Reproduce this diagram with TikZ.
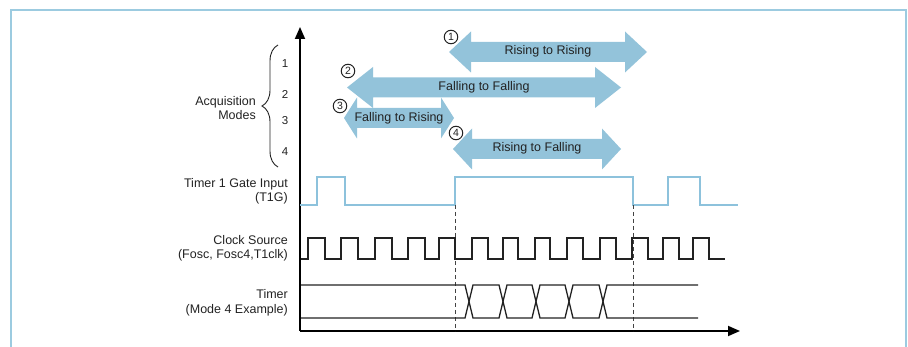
\documentclass[tikz,border=0pt]{standalone}
\usepackage{fontspec}
\setmainfont{Liberation Sans}
\usetikzlibrary{decorations.pathreplacing,arrows.meta}
\definecolor{arrowblue}{HTML}{93C3DA}
\definecolor{frameblue}{HTML}{9CCBE0}
\definecolor{sigblue}{HTML}{8DC2DC}
\definecolor{txt}{HTML}{222222}
\newcommand\dblarr[4]{\fill[arrowblue] (#1,#3) -- (#1+#4,#3-20.5) -- (#1+#4,#3-10) -- (#2-#4,#3-10) -- (#2-#4,#3-20.5) -- (#2,#3) -- (#2-#4,#3+20.5) -- (#2-#4,#3+10) -- (#1+#4,#3+10) -- (#1+#4,#3+20.5) -- cycle;}
\begin{document}
\begin{tikzpicture}[x=1pt,y=-1pt,
  lbl/.style={font=\fontsize{12.5}{14.5}\selectfont, text=txt, align=right, anchor=east, inner sep=0pt},
  arrtxt/.style={font=\fontsize{12.5}{14.5}\selectfont, text=txt, inner sep=0pt},
  num/.style={font=\fontsize{11.5}{13}\selectfont, text=txt, inner sep=0pt},
  circnum/.style={circle, draw=txt, line width=1pt, fill=white, minimum size=13.5pt, inner sep=0pt, font=\fontsize{10.5}{10.5}\selectfont, text=txt},
  wave/.style={line width=1.3pt, line join=miter, draw=txt},
  gate/.style={line width=1.3pt, draw=sigblue},
  guide/.style={dash pattern=on 4pt off 3pt, line width=0.8pt, draw=txt!85},
  axisline/.style={line width=1.8pt, draw=black, -{Triangle[length=12pt,width=10pt]}}]

\useasboundingbox (0,0) rectangle (908,347);
\draw[frameblue, line width=1.6pt] (11,360) -- (11,10) -- (906,10) -- (906,360);

% acquisition mode arrows
\dblarr{449}{647}{52}{22}
\dblarr{347}{621}{87.5}{26}
\dblarr{344}{454}{118}{13}
\dblarr{453}{621}{149}{19}
\node[arrtxt] (t1) at (548,51) {Rising to Rising};
\node[arrtxt] (t2) at (484,87) {Falling to Falling};
\node[arrtxt] (t3) at (399,118) {Falling to Rising};
\node[arrtxt] (t4) at (537,148) {Rising to Falling};
\node[circnum] (c1) at (451,37) {1};
\node[circnum] (c2) at (348,71) {2};
\node[circnum] (c3) at (340,106) {3};
\node[circnum] (c4) at (456,133) {4};

% labels
\node[lbl] (acq) at (256,108) {Acquisition\\Modes};
\draw[decorate, decoration={brace, amplitude=16pt}, line width=0.9pt, txt] (278,167) -- (278,45);
\node[num] (n1) at (285,64) {1};
\node[num] (n2) at (285,94) {2};
\node[num] (n3) at (285,121) {3};
\node[num] (n4) at (285,152) {4};
\node[lbl] (lg) at (288,191.5) {Timer 1 Gate Input\\(T1G)};
\node[lbl] (lc) at (288,248.5) {Clock Source\\(Fosc, Fosc4,T1clk)};
\node[lbl] (lt) at (288,303) {Timer\\(Mode 4 Example)};

% axes
\coordinate (O) at (300,331);
\coordinate (Ytop) at (300,27);
\coordinate (Xend) at (740,331);
\draw[axisline] (O) -- (Ytop);
\draw[axisline] (O) -- (Xend);

% gate input
\draw[gate] (300,205) -- (317,205) -- (317,177) -- (345,177) -- (345,205) -- (455,205) -- (455,177) -- (633,177) -- (633,205) -- (668,205) -- (668,177) -- (700,177) -- (700,205) -- (738,205);

% dashed guides
\coordinate (g1) at (455,205);
\coordinate (g1b) at (455,331);
\coordinate (g2) at (633,205);
\coordinate (g2b) at (633,331);
\draw[guide] (g1) -- (g1b);
\draw[guide] (g2) -- (g2b);

% clock
\draw[wave] (301,259)
  \foreach \r/\f in {308/325,341/358,375/392,408/425,439/455,472/488,503/518,535/550,567/583,600/616,632/648,663/679,693/709}
  { -- (\r,259) -- (\r,238) -- (\f,238) -- (\f,259) } -- (725,259);

% timer
\draw[wave] (301,285) -- (465,285) -- (473,318) -- (499,318) -- (507,285) -- (532,285) -- (540,318) -- (565,318) -- (573,285) -- (599,285) -- (607,318) -- (698,318);
\draw[wave] (301,318) -- (465,318) -- (473,285) -- (499,285) -- (507,318) -- (532,318) -- (540,285) -- (565,285) -- (573,318) -- (599,318) -- (607,285) -- (698,285);
\end{tikzpicture}
\end{document}
